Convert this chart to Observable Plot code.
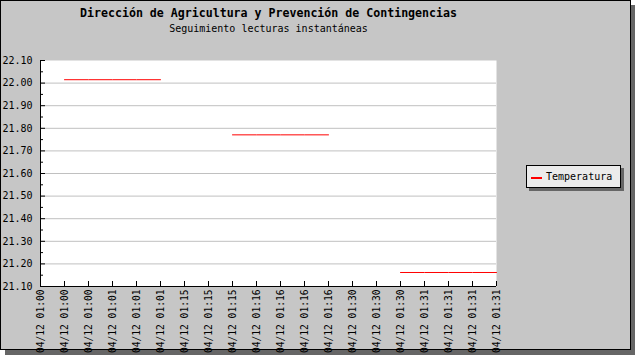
<!DOCTYPE html>
<html>
<head>
<meta charset="utf-8">
<script src="https://cdn.jsdelivr.net/npm/d3@7"></script>
<script src="https://cdn.jsdelivr.net/npm/@observablehq/plot@0.6"></script>
<style>
  html, body { margin: 0; padding: 0; background: #ffffff; }
  #wrap { position: relative; width: 635px; height: 355px; overflow: hidden; font-family: "DejaVu Sans Mono", monospace; }
  #frame { position: absolute; left: 0; top: 0; width: 631px; height: 350px; box-sizing: border-box;
           border: 1px solid #000; background: #c6c6c6; box-shadow: 5px 5px 0 #666666; }
  #chart { position: absolute; left: 0; top: 0; }
  #legend { position: absolute; left: 526px; top: 165px; width: 95px; height: 23px; box-sizing: border-box;
            border: 1px solid #000; background: #ebebeb; box-shadow: 3px 3px 0 #666666;
            font-size: 10px; color: #000; }
  #legend .sw { position: absolute; left: 4px; top: 11px; width: 11px; height: 2px; background: #ff0000; }
  #legend .lb { position: absolute; left: 19px; top: 5px; line-height: 12px; }
</style>
</head>
<body>
<div id="wrap">
  <div id="frame"></div>
  <div id="chart"></div>
  <div id="legend"><div class="sw"></div><div class="lb"></div></div>
</div>
<script>
const title = "Dirección de Agricultura y Prevención de Contingencias";
const subtitle = "Seguimiento lecturas instantáneas";
const seriesName = "Temperatura";

const timeLabels = [
  "04/12 01:00", "04/12 01:00", "04/12 01:00",
  "04/12 01:01", "04/12 01:01", "04/12 01:01",
  "04/12 01:15", "04/12 01:15", "04/12 01:15",
  "04/12 01:16", "04/12 01:16", "04/12 01:16", "04/12 01:16",
  "04/12 01:30", "04/12 01:30", "04/12 01:30",
  "04/12 01:31", "04/12 01:31", "04/12 01:31", "04/12 01:31"
];
const temperatura = [
  null, 22.015, 22.015, 22.015, 22.015, 22.015,
  null, null, 21.771, 21.771, 21.771, 21.771, 21.771,
  null, null, 21.162, 21.162, 21.162, 21.162, 21.162
];
const yMajor = [21.1, 21.2, 21.3, 21.4, 21.5, 21.6, 21.7, 21.8, 21.9, 22.0, 22.1];
const yMinor = [21.15, 21.25, 21.35, 21.45, 21.55, 21.65, 21.75, 21.85, 21.95, 22.05];
const yGrid = [21.2, 21.3, 21.4, 21.5, 21.6, 21.7, 21.8, 21.9, 22.0];

const rows = timeLabels.map((t, i) => ({i, t, v: temperatura[i]}));
const idx = timeLabels.map((t, i) => i);

const chart = Plot.plot({
  width: 635,
  height: 355,
  marginLeft: 40,
  marginRight: 139,
  marginTop: 60,
  marginBottom: 69,
  style: {background: "transparent", fontFamily: "DejaVu Sans Mono, monospace", fontSize: "10px", color: "#000", overflow: "visible"},
  x: {type: "linear", domain: [0, timeLabels.length - 1], axis: null},
  y: {domain: [21.1, 22.1], axis: null},
  marks: [
    Plot.frame({fill: "#ffffff", stroke: null}),
    Plot.ruleY(yGrid, {stroke: "#c0c0c0", strokeWidth: 1}),
    Plot.axisY({ticks: yMajor, tickSize: 0, tickPadding: 8, tickFormat: d3.format(".2f"), fontSize: 10, label: null}),
    Plot.axisY({ticks: yMajor, tickSize: -5, fill: "none", label: null}),
    Plot.axisY({ticks: yMinor, tickSize: -3, fill: "none", label: null}),
    Plot.axisX({ticks: idx, tickSize: 0, tickPadding: 3, tickRotate: -90, tickFormat: i => timeLabels[i], fontSize: 9.6, label: null}),
    Plot.axisX({ticks: idx, tickSize: -5, fill: "none", label: null}),
    Plot.ruleX([0], {stroke: "#000"}),
    Plot.ruleY([21.1], {stroke: "#000"}),
    Plot.line(rows, {x: "i", y: "v", stroke: "#ff0000", strokeWidth: 1}),
    Plot.text([title], {frameAnchor: "top", dy: -47, fontWeight: "bold", fontSize: 11.6, lineAnchor: "middle", fill: "#000"}),
    Plot.text([subtitle], {frameAnchor: "top", dy: -32, fontSize: 10, lineAnchor: "middle", fill: "#000"})
  ]
});
document.getElementById("chart").appendChild(chart);
document.querySelector("#legend .lb").textContent = seriesName;
</script>
</body>
</html>
